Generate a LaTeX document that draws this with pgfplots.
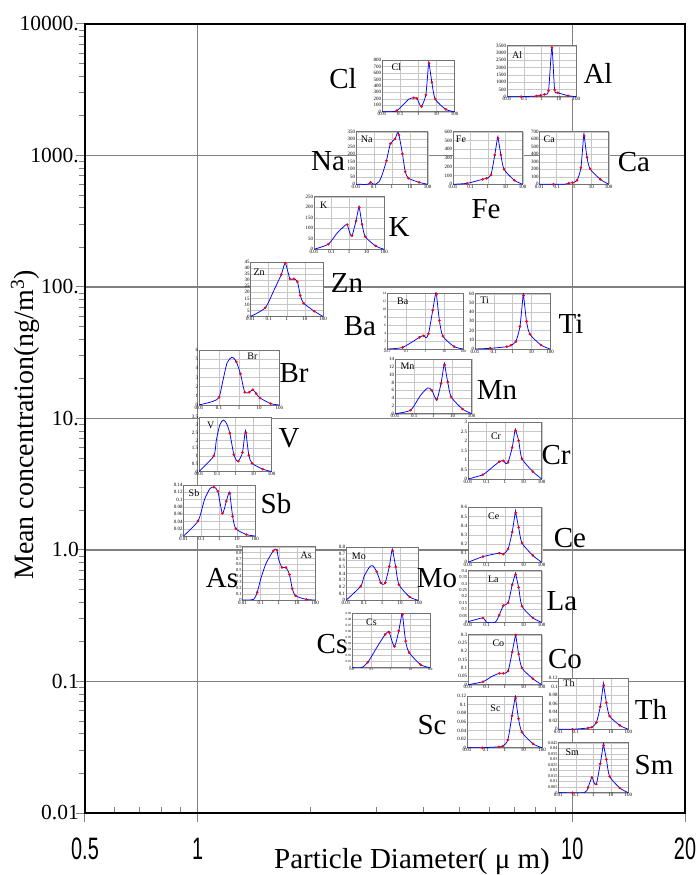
\documentclass[border=0pt]{standalone}
\usepackage{fontspec}
\setmainfont{Liberation Serif}
\newfontfamily\condf[FakeStretch=0.64]{Liberation Sans}
\usepackage{pgfplots}
\pgfplotsset{compat=1.18}
\definecolor{gridg}{RGB}{128,128,128}
\newcommand{\inset}[9]{%
 \begin{axis}[scale only axis, anchor=south west, at={(#1pt,#2pt)}, width=#3pt, height=#4pt,
  xmode=log, xmin=0.01, xmax=100, ymin=0,
  xtick={0.01,0.1,1,10,100}, xticklabels={0.01,0.1,1,10,100},
  grid=major, major grid style={draw=black!22, line width=0.35pt},
  axis line style={draw=black!55, line width=0.45pt},
  tick style={draw=none},
  tick label style={font=\fontsize{5}{5}\selectfont, inner sep=0.6pt},
  scaled y ticks=false,
  yticklabel style={/pgf/number format/fixed, /pgf/number format/precision=3, /pgf/number format/1000 sep={}},
  axis background/.style={fill=white},
  #5, /pgf/number format/assume math mode=true]
 \addplot[blue, line width=0.75pt, smooth, tension=0.4, no marks] coordinates {#6};
 \addplot[only marks, mark=*, mark size=1.1pt, color=red, mark options={draw=red, fill=red}] coordinates {#7};
 \node[font=\fontsize{10}{10}\selectfont, inner sep=0pt, anchor=north west] at (rel axis cs:#9) {#8};
 \end{axis}}
\newcommand{\elab}[3]{\node[font=\fontsize{29}{29}\selectfont, inner sep=0pt] at (#1pt,#2pt) {#3};}
\begin{document}
\begin{tikzpicture}
\path[use as bounding box] (0,0) rectangle (698pt,875pt);
\begin{axis}[at={(85pt,62pt)}, anchor=south west, scale only axis, width=600pt, height=789pt,
 xmode=log, ymode=log, xmin=0.5, xmax=20, ymin=0.01, ymax=10000,
 xtick={0.5,1,10,20}, xticklabels={0.5,1,10,20},
 minor xtick={0.6,0.7,0.8,0.9,2,3,4,5,6,7,8,9},
 ytick={0.01,0.1,1,10,100,1000,10000}, yticklabels={0.01,0.1,1.0,10.,100.,1000.,10000.},
 minor ytick={0.02,0.03,0.04,0.05,0.06,0.07,0.08,0.09,0.2,0.3,0.4,0.5,0.6,0.7,0.8,0.9,2,3,4,5,6,7,8,9,20,30,40,50,60,70,80,90,200,300,400,500,600,700,800,900,2000,3000,4000,5000,6000,7000,8000,9000},
 tick pos=left, tick align=outside, major tick length=9pt, minor tick length=6pt,
 tick style={draw=gridg, line width=1pt},
 every minor x tick/.append style={yshift=6pt},
 grid=major, major grid style={draw=gridg, line width=1.3pt}, minor grid style={draw=none},
 axis line style={line width=1.5pt},
 xticklabel style={font=\condf\fontsize{31}{31}\selectfont, anchor=north, inner sep=0pt, yshift=-16pt},
 yticklabel style={font=\fontsize{21.5}{21.5}\selectfont, anchor=east, inner sep=0pt, xshift=3pt},
 /pgf/number format/assume math mode=true]
\end{axis}
\node[rotate=90, anchor=base, font=\fontsize{28}{28}\selectfont] at (33pt,450pt) {Mean concentration(ng/m\textsuperscript{3})};
\node[font=\fontsize{29}{29}\selectfont, anchor=base] at (412pt,6pt) {Particle Diameter( μ m)};
% Cl
\inset{382}{763.3}{72.6}{51.7}{ymax=800, ytick={0,100,...,800}}
{(0.01,0)(0.035,0)(0.065,15)(0.15,110)(0.3,195)(0.55,215)(0.83,205)(1.2,110)(1.5,80)(2.6,260)(3.6,720)(3.9,748)(5.6,454)(8.5,196)(33,35)(100,0)}
{(0.065,15)(0.55,215)(0.83,205)(1.5,80)(2.6,260)(3.9,748)(5.6,454)(8.5,196)(33,35)}{Cl}{0.13,0.94}
% Al
\inset{507}{778.3}{69.3}{51}{ymax=3500, ytick={0,500,...,3500}}
{(0.01,0)(0.065,0)(0.5,45)(0.83,90)(1.5,160)(2.5,410)(3.9,3360)(5.6,460)(8.5,275)(33,70)(100,0)}
{(0.065,0)(0.5,45)(0.83,90)(1.5,160)(2.5,410)(3.9,3360)(5.6,460)(8.5,275)(33,70)}{Al}{0.07,0.88}
% Na
\inset{356}{690.7}{71.7}{52.6}{ymax=350, ytick={0,50,...,350}}
{(0.01,0)(0.045,0)(0.065,13)(0.09,2)(0.12,0)(0.2,20)(0.3,70)(0.5,157)(0.83,270)(1.5,301)(2.1,345)(2.5,328)(3.9,202)(5.6,84)(8.5,40)(33,13)(100,0)}
{(0.065,13)(0.5,157)(0.83,270)(1.5,301)(2.5,328)(3.9,202)(5.6,84)(8.5,40)(33,13)}{Na}{0.065,0.92}
% Fe
\inset{453}{690.7}{69.7}{52.6}{ymax=600, ytick={0,100,...,600}}
{(0.01,0)(0.065,11)(0.5,57)(0.83,68)(1.5,106)(2.5,335)(3.6,535)(3.9,524)(5.6,335)(8.5,171)(33,46)(100,0)}
{(0.065,11)(0.5,57)(0.83,68)(1.5,106)(2.5,335)(3.9,524)(5.6,335)(8.5,171)(33,46)}{Fe}{0.04,0.92}
% Ca
\inset{539.3}{690.7}{69.4}{52.6}{ymax=700, ytick={0,100,...,700}}
{(0.01,0)(0.065,0)(0.3,2)(0.5,13)(0.83,22)(1.5,53)(2.5,221)(3.6,650)(3.9,642)(5.6,359)(8.5,204)(33,66)(100,0)}
{(0.065,0)(0.5,13)(0.83,22)(1.5,53)(2.5,221)(3.9,642)(5.6,359)(8.5,204)(33,66)}{Ca}{0.06,0.92}
% K
\inset{314}{625.7}{70}{52.6}{ymax=250, ytick={0,50,...,250}}
{(0.01,0)(0.065,24)(0.2,75)(0.5,108)(0.7,118)(0.8,117)(1.2,70)(1.5,65)(2.5,134)(3.6,200)(3.9,198)(5.6,119)(8.5,60)(33,16)(100,0)}
{(0.065,24)(0.8,117)(1.5,65)(2.5,134)(3.9,198)(5.6,119)(8.5,60)(33,16)}{K}{0.085,0.9}
% Zn
\inset{250.5}{558.5}{72.5}{54.3}{ymax=45, ytick={0,5,...,45}}
{(0.01,0)(0.065,7.2)(0.2,22)(0.5,34.8)(0.83,44.2)(1.5,31.2)(2.5,31.2)(3.9,28.7)(5.6,17.4)(8.5,11)(33,4.4)(100,0)}
{(0.065,7.2)(0.5,34.8)(0.83,44.2)(1.5,31.2)(2.5,31.2)(3.9,28.7)(5.6,17.4)(8.5,11)(33,4.4)}{Zn}{0.04,0.88}
% Ba
\inset{387}{526}{76.3}{56}{ymax=14, ytick={0,2,...,14}, tick label style={font=\fontsize{3.5}{3.5}\selectfont}}
{(0.01,0)(0.065,0.4)(0.5,2.9)(0.83,3.4)(1.1,2.8)(1.5,3.8)(2.5,9.7)(3.5,13.8)(3.9,13.6)(5.6,7.1)(8.5,3.2)(33,0.6)(100,0)}
{(0.065,0.4)(0.5,2.9)(0.83,3.3)(1.5,3.8)(2.5,9.7)(3.9,13.6)(5.6,7.1)(8.5,3.2)(33,0.6)}{Ba}{0.13,0.92}
% Ti
\inset{475}{526}{75}{55.3}{ymax=60, ytick={0,10,...,60}}
{(0.01,0)(0.065,0.7)(0.5,2.5)(0.83,4)(1.5,8)(2.5,24.5)(3.7,59)(3.9,58)(5.6,30)(8.5,16)(33,4.3)(100,0)}
{(0.065,0.7)(0.5,2.5)(0.83,4)(1.5,8)(2.5,24.5)(3.9,58)(5.6,30)(8.5,16)(33,4.3)}{Ti}{0.07,0.95}
% Br
\inset{199}{470}{80.3}{55}{ymax=6, ytick={0,1,...,6}}
{(0.01,0)(0.05,0.4)(0.1,0.84)(0.15,2.5)(0.25,4.6)(0.43,5.2)(0.6,5.0)(0.73,4.7)(1.16,3.4)(1.9,1.4)(3.2,1.4)(4.8,1.67)(7.1,1.24)(11,0.76)(37,0.15)(100,0)}
{(0.1,0.84)(0.73,4.7)(1.16,3.4)(1.9,1.4)(3.2,1.4)(4.8,1.67)(7.1,1.24)(11,0.76)(37,0.15)}{Br}{0.6,0.95}
% Mn
\inset{395}{461.3}{76.7}{54.7}{ymax=14, ytick={0,2,...,14}}
{(0.01,0)(0.065,0.9)(0.2,4.5)(0.5,6.6)(0.83,6.0)(1.5,3.6)(2.5,7.7)(3.6,12.6)(3.9,12.5)(5.6,8.1)(8.5,4.3)(33,1.2)(100,0)}
{(0.065,0.9)(0.83,6.0)(1.5,3.6)(2.5,7.7)(3.9,12.5)(5.6,8.1)(8.5,4.3)(33,1.2)}{Mn}{0.07,0.93}
% V
\inset{199}{403.5}{72.5}{54.3}{ymax=3.5, ytick={0,0.5,1,1.5,2,2.5,3,3.5}}
{(0.01,0)(0.065,1.0)(0.09,2.0)(0.14,3.0)(0.22,3.32)(0.33,3.1)(0.5,2.47)(0.83,1.1)(1.2,0.7)(1.5,0.67)(2.5,1.22)(3.5,2.55)(3.9,2.5)(5.6,1.05)(8.5,0.53)(33,0.15)(100,0)}
{(0.065,1.0)(0.5,2.47)(0.83,1.1)(1.5,0.67)(2.5,1.22)(3.9,2.5)(5.6,1.05)(8.5,0.53)(33,0.15)}{V}{0.11,0.92}
% Sb
\inset{183.5}{339}{71.5}{51}{ymax=0.14, ytick={0,0.02,0.04,0.06,0.08,0.1,0.12,0.14}}
{(0.01,0)(0.065,0.041)(0.15,0.10)(0.3,0.13)(0.5,0.134)(0.83,0.123)(1.5,0.062)(2.5,0.096)(3.4,0.118)(3.9,0.117)(5.6,0.054)(8.5,0.020)(33,0.004)(100,0)}
{(0.065,0.041)(0.5,0.134)(0.83,0.123)(1.5,0.062)(2.5,0.096)(3.9,0.117)(5.6,0.054)(8.5,0.020)(33,0.004)}{Sb}{0.07,0.92}
% Cr
\inset{468}{396}{73.7}{57}{ymax=3, ytick={0,0.5,1,1.5,2,2.5,3}}
{(0.01,0)(0.065,0.23)(0.2,0.6)(0.5,0.91)(0.83,0.96)(1.1,0.82)(1.5,0.88)(2.5,1.65)(3.6,2.6)(3.9,2.54)(5.6,2.02)(8.5,1.07)(33,0.39)(100,0)}
{(0.065,0.23)(0.5,0.91)(0.83,0.96)(1.5,0.88)(2.5,1.65)(3.9,2.54)(5.6,2.02)(8.5,1.07)(33,0.39)}{Cr}{0.31,0.82}
% Ce
\inset{468}{312.7}{73.7}{55}{ymax=0.6, ytick={0,0.1,0.2,0.3,0.4,0.5,0.6}}
{(0.01,0)(0.065,0.062)(0.5,0.10)(0.83,0.09)(1.5,0.145)(2.5,0.33)(3.7,0.55)(3.9,0.54)(5.6,0.38)(8.5,0.21)(33,0.075)(100,0)}
{(0.065,0.062)(0.5,0.10)(0.83,0.09)(1.5,0.145)(2.5,0.33)(3.9,0.54)(5.6,0.38)(8.5,0.21)(33,0.075)}{Ce}{0.27,0.9}
% As
\inset{242.5}{275}{72.5}{53.3}{ymax=0.9, ytick={0,0.1,0.2,0.3,0.4,0.5,0.6,0.7,0.8,0.9}, yticklabel style={font=\fontsize{4.5}{4.5}\selectfont}}
{(0.01,0)(0.04,0.01)(0.065,0.13)(0.1,0.35)(0.2,0.62)(0.5,0.83)(0.7,0.86)(0.8,0.84)(1.0,0.68)(1.5,0.55)(2.5,0.55)(3.9,0.43)(5.6,0.19)(8.5,0.07)(33,0.01)(100,0)}
{(0.065,0.13)(0.5,0.83)(0.8,0.84)(1.5,0.55)(2.5,0.55)(3.9,0.43)(5.6,0.19)(8.5,0.07)(33,0.01)}{As}{0.8,0.9}
% Mo
\inset{346}{274.7}{72.3}{53.3}{ymax=0.8, ytick={0,0.1,0.2,0.3,0.4,0.5,0.6,0.7,0.8}}
{(0.01,0)(0.065,0.21)(0.1,0.36)(0.2,0.5)(0.3,0.52)(0.5,0.43)(0.83,0.265)(1.1,0.24)(1.5,0.265)(2.5,0.51)(3.5,0.76)(3.9,0.74)(5.6,0.50)(8.5,0.235)(33,0.05)(100,0)}
{(0.065,0.21)(0.5,0.43)(0.83,0.265)(1.5,0.265)(2.5,0.51)(3.9,0.74)(5.6,0.50)(8.5,0.235)(33,0.05)}{Mo}{0.08,0.9}
% La
\inset{468}{252.7}{73.7}{51.6}{ymax=0.4, ytick={0,0.05,0.1,0.15,0.2,0.25,0.3,0.35,0.4}, yticklabel style={font=\fontsize{4.5}{4.5}\selectfont}}
{(0.01,0.004)(0.065,0.034)(0.1,0)(0.3,0)(0.5,0.057)(0.83,0.13)(1.5,0.15)(2.5,0.29)(3.7,0.375)(3.9,0.37)(5.6,0.27)(8.5,0.125)(33,0.034)(100,0)}
{(0.065,0.034)(0.5,0.057)(0.83,0.13)(1.5,0.15)(2.5,0.29)(3.9,0.37)(5.6,0.27)(8.5,0.125)(33,0.034)}{La}{0.27,0.91}
% Co
\inset{468}{190.3}{73.7}{50}{ymax=0.3, ytick={0,0.05,0.1,0.15,0.2,0.25,0.3}}
{(0.01,0)(0.065,0.018)(0.2,0.05)(0.5,0.068)(0.83,0.068)(1.5,0.082)(2.5,0.196)(3.8,0.3)(3.9,0.298)(5.6,0.184)(8.5,0.1)(33,0.036)(100,0)}
{(0.065,0.018)(0.5,0.068)(0.83,0.068)(1.5,0.082)(2.5,0.196)(3.9,0.298)(5.6,0.184)(8.5,0.1)(33,0.036)}{Co}{0.33,0.9}
% Cs
\inset{352}{207.3}{78}{54.4}{ymax=0.09, ytick={0,0.01,0.02,0.03,0.04,0.05,0.06,0.07,0.08,0.09}, tick label style={font=\fontsize{3.2}{3.2}\selectfont}}
{(0.01,0)(0.03,0)(0.065,0.009)(0.2,0.035)(0.5,0.055)(0.75,0.06)(0.83,0.058)(1.5,0.035)(2.5,0.061)(3.6,0.089)(3.9,0.088)(5.6,0.044)(8.5,0.025)(33,0.005)(100,0)}
{(0.065,0.009)(0.5,0.055)(0.83,0.058)(1.5,0.035)(2.5,0.061)(3.9,0.088)(5.6,0.044)(8.5,0.025)(33,0.005)}{Cs}{0.18,0.91}
% Sc
\inset{467}{127.3}{75}{51.7}{ymax=0.12, ytick={0,0.02,0.04,0.06,0.08,0.1,0.12}}
{(0.01,0)(0.065,0)(0.5,0.002)(0.83,0.004)(1.5,0.018)(2.5,0.074)(3.7,0.117)(3.9,0.115)(5.6,0.067)(8.5,0.036)(33,0.009)(100,0)}
{(0.065,0)(0.5,0.002)(0.83,0.004)(1.5,0.018)(2.5,0.074)(3.9,0.115)(5.6,0.067)(8.5,0.036)(33,0.009)}{Sc}{0.31,0.83}
% Th
\inset{558.3}{145.7}{70}{51.3}{ymax=0.12, ytick={0,0.02,0.04,0.06,0.08,0.1,0.12}}
{(0.01,0)(0.065,0)(0.5,0.003)(0.83,0.005)(1.5,0.016)(2.5,0.053)(3.7,0.104)(3.9,0.103)(5.6,0.062)(8.5,0.031)(33,0.009)(100,0)}
{(0.065,0)(0.5,0.003)(0.83,0.005)(1.5,0.016)(2.5,0.053)(3.9,0.103)(5.6,0.062)(8.5,0.031)(33,0.009)}{Th}{0.07,0.97}
% Sm
\inset{558.3}{82.3}{70}{50}{ymax=0.045, ytick={0,0.005,0.01,0.015,0.02,0.025,0.03,0.035,0.04,0.045}, yticklabel style={font=\fontsize{4.3}{4.3}\selectfont}}
{(0.01,0)(0.3,0)(0.5,0.0048)(0.83,0.0138)(1.1,0.009)(1.5,0.0078)(2.5,0.026)(3.7,0.043)(3.9,0.0426)(5.6,0.030)(8.5,0.0147)(33,0.0042)(100,0)}
{(0.065,0)(0.5,0.0048)(0.83,0.0138)(1.5,0.0078)(2.5,0.026)(3.9,0.0426)(5.6,0.030)(8.5,0.0147)(33,0.0042)}{Sm}{0.1,0.88}
% element labels
\elab{343}{796}{Cl}
\elab{598}{802}{Al}
\elab{328}{714}{Na}
\elab{486}{666}{Fe}
\elab{634}{713}{Ca}
\elab{399}{648}{K}
\elab{347}{592}{Zn}
\elab{360}{549}{Ba}
\elab{571}{551}{Ti}
\elab{294}{502}{Br}
\elab{497}{485}{Mn}
\elab{289}{437}{V}
\elab{276}{371}{Sb}
\elab{556}{420}{Cr}
\elab{570}{337}{Ce}
\elab{222}{297}{As}
\elab{437}{297}{Mo}
\elab{562}{274}{La}
\elab{565}{216}{Co}
\elab{332}{231}{Cs}
\elab{432}{150}{Sc}
\elab{651}{166}{Th}
\elab{654}{110}{Sm}
\end{tikzpicture}
\end{document}
